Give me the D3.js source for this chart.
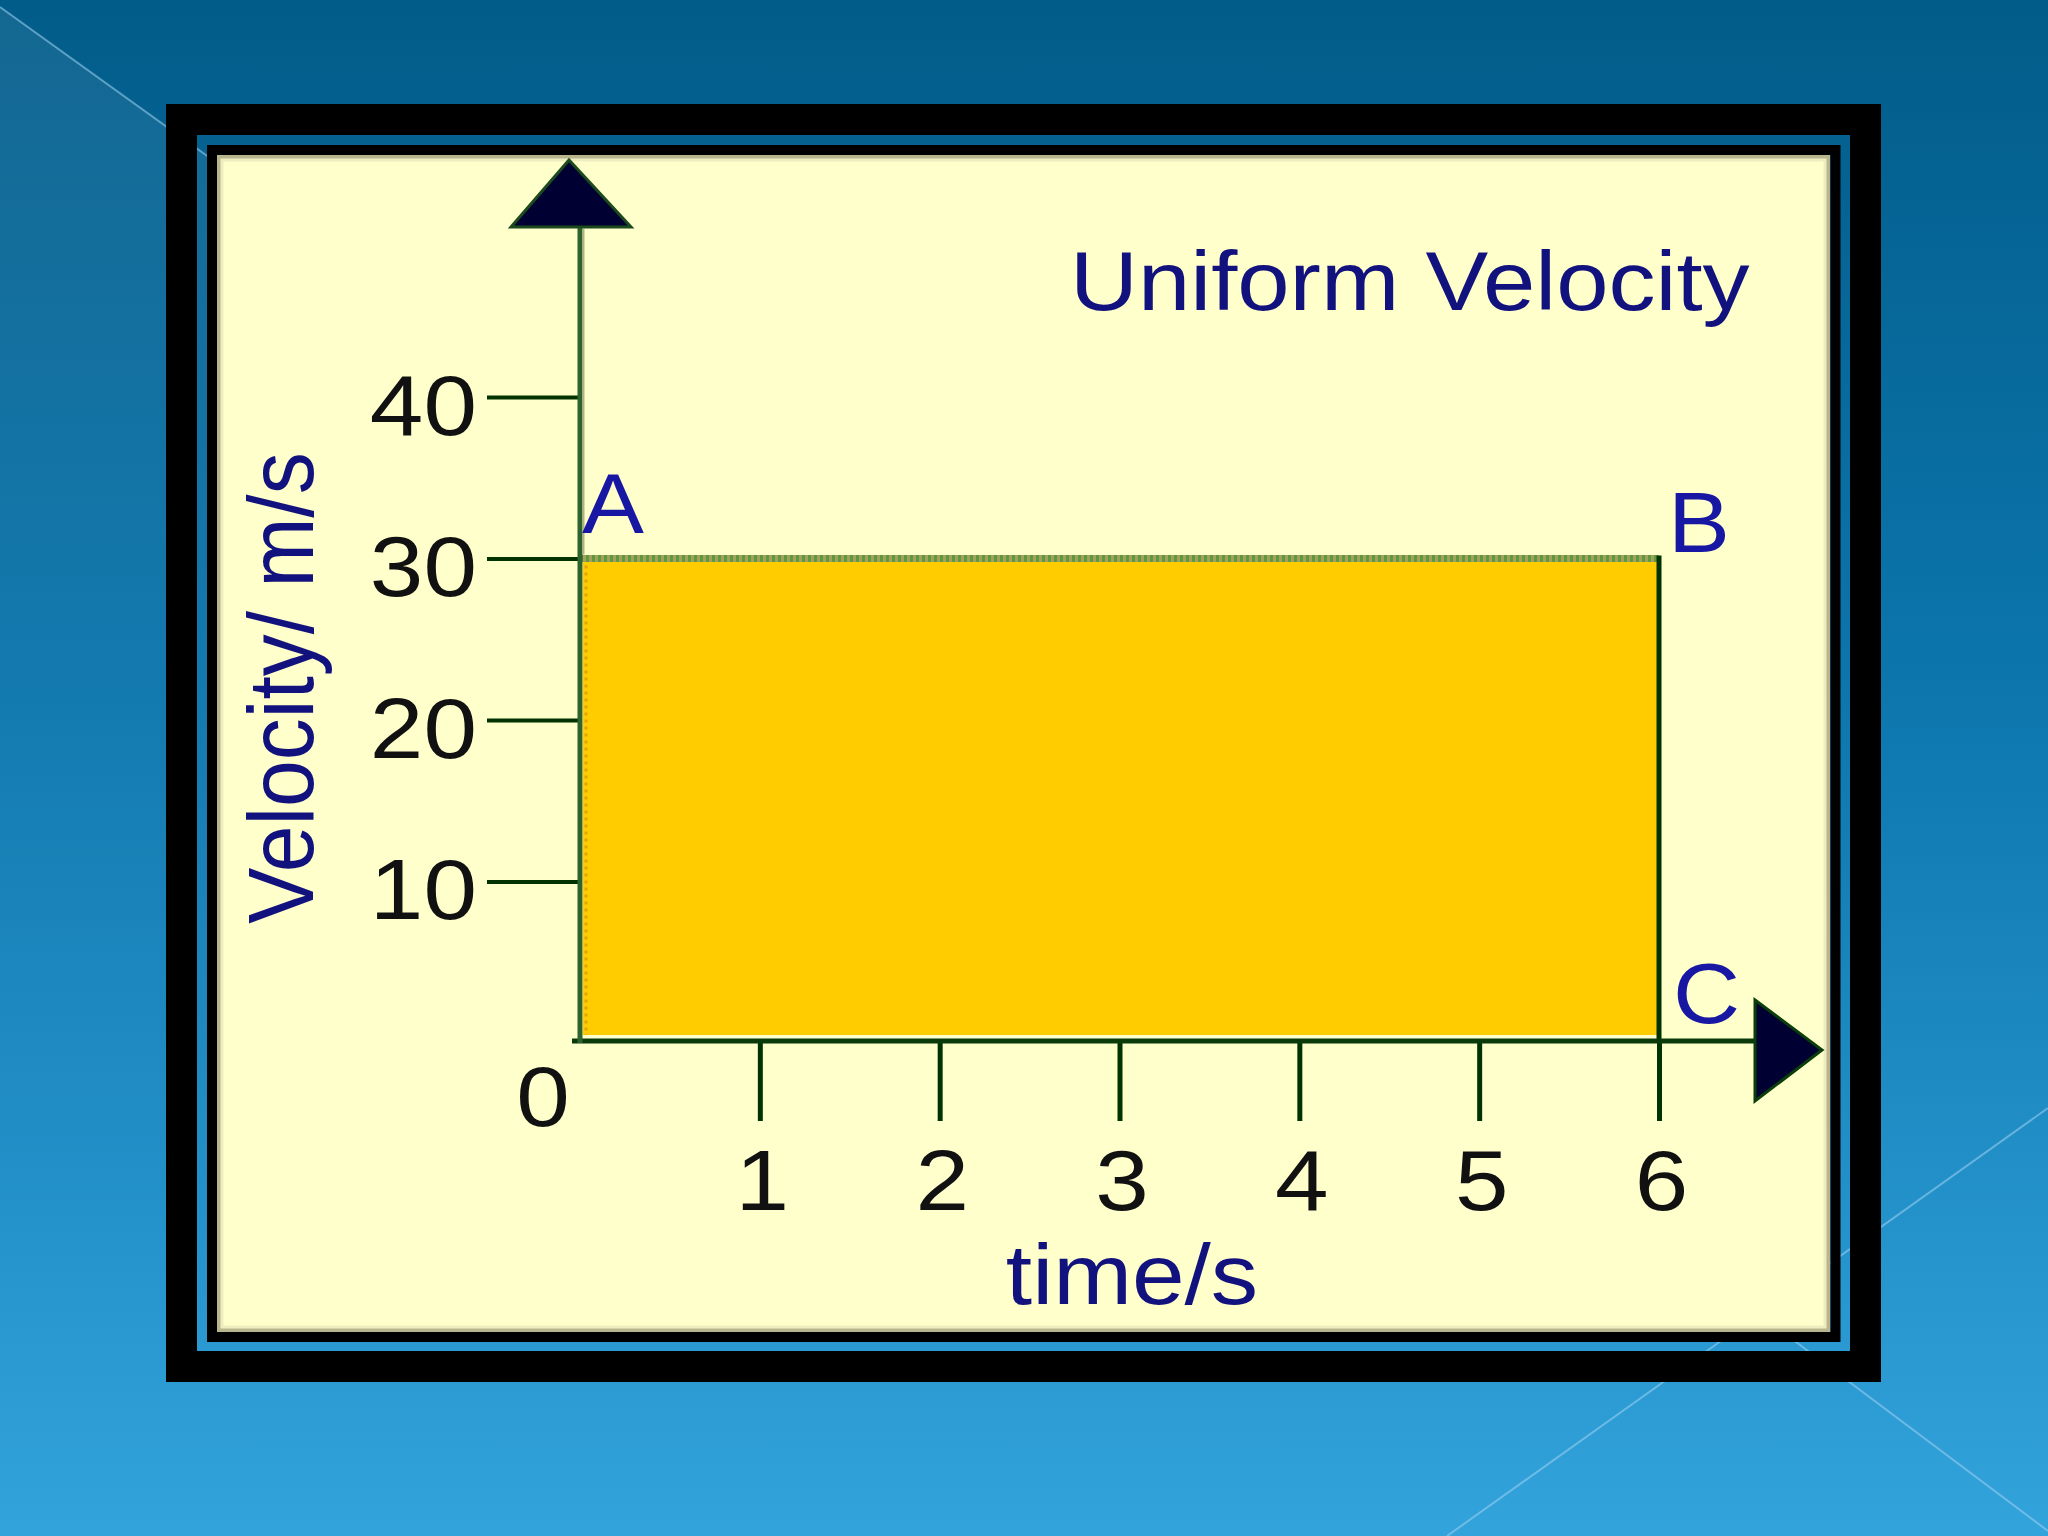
<!DOCTYPE html>
<html>
<head>
<meta charset="utf-8">
<script src="https://cdn.jsdelivr.net/npm/d3@7/dist/d3.min.js"></script>
<style>
  html, body { margin: 0; padding: 0; background: #0a6ea4; }
  svg { display: block; }
  text { font-family: "Liberation Sans", Arial, sans-serif; }
</style>
</head>
<body>
<svg id="chart" width="2048" height="1536"></svg>
<script>
// ---------------- data ----------------
const chartTitle = "Uniform Velocity";
const xTitle = "time/s";
const yTitle = "Velocity/ m/s";
const timeDomain = [0, 6];
const velocityDomain = [0, 40];
const timeTicks = [1, 2, 3, 4, 5, 6];
const velocityTicks = [10, 20, 30, 40];
const pointLabels = ["A", "B", "C"];
const pointTimes = [0, 6, 6];
const pointVelocities = [30, 30, 0];
const uniformVelocity = 30;
const motionStart = 0;
const motionEnd = 6;

// ---------------- layout ----------------
const W = 2048, H = 1536;
const svg = d3.select("#chart");
const defs = svg.append("defs");

const bg = defs.append("linearGradient").attr("id", "bg")
  .attr("x1", 0).attr("y1", 0).attr("x2", 0).attr("y2", 1);
bg.append("stop").attr("offset", "0%").attr("stop-color", "#025c89");
bg.append("stop").attr("offset", "45%").attr("stop-color", "#0c76ad");
bg.append("stop").attr("offset", "100%").attr("stop-color", "#33a3dc");

const wedge = defs.append("linearGradient").attr("id", "wedge")
  .attr("x1", 0).attr("y1", 0).attr("x2", 0).attr("y2", 1);
wedge.append("stop").attr("offset", "0%").attr("stop-color", "#ffffff").attr("stop-opacity", 0.07);
wedge.append("stop").attr("offset", "100%").attr("stop-color", "#ffffff").attr("stop-opacity", 0);

svg.append("rect").attr("width", W).attr("height", H).attr("fill", "url(#bg)");
// subtle lighter wedge at left
svg.append("polygon")
  .attr("points", "0,7 700,510 700,1200 0,1200")
  .attr("fill", "url(#wedge)");
// decorative light lines
const deco = [[0, 7, 700, 510], [1447, 1536, 2048, 1108], [1700, 1270, 2048, 1531]];
svg.selectAll("line.deco").data(deco).join("line").attr("class", "deco")
  .attr("x1", d => d[0]).attr("y1", d => d[1]).attr("x2", d => d[2]).attr("y2", d => d[3])
  .attr("stroke", "#9fd4f2").attr("stroke-opacity", 0.55).attr("stroke-width", 2);

// frames
svg.append("rect").attr("x", 181.5).attr("y", 119.5).attr("width", 1684).attr("height", 1247)
  .attr("fill", "none").attr("stroke", "#000").attr("stroke-width", 31);
svg.append("rect").attr("x", 212).attr("y", 150).attr("width", 1623.5).attr("height", 1187)
  .attr("fill", "none").attr("stroke", "#000").attr("stroke-width", 10);
// cream panel
svg.append("rect").attr("x", 217).attr("y", 155).attr("width", 1613).attr("height", 1177)
  .attr("fill", "#ffffcc");
svg.append("rect").attr("x", 219).attr("y", 157).attr("width", 1609).attr("height", 1173)
  .attr("fill", "none").attr("stroke", "#b9b68e").attr("stroke-width", 4);
svg.append("rect").attr("x", 222).attr("y", 160).attr("width", 1603).attr("height", 1167)
  .attr("fill", "none").attr("stroke", "#eeedbf").attr("stroke-width", 3);

// ---------------- scales ----------------
const x = d3.scaleLinear().domain(timeDomain).range([580, 1659]);
const y = d3.scaleLinear().domain(velocityDomain).range([1043, 397]);
const axisY = y(0) - 2;

const TXT = "#111111";
const NAVY = "#12127e";
const LETTER = "#1717a3";
const SX = 1.12;

// area under graph (displacement)
svg.append("rect")
  .attr("x", x(motionStart) + 3)
  .attr("y", y(uniformVelocity))
  .attr("width", x(motionEnd) - x(motionStart) - 3)
  .attr("height", (axisY - 6) - y(uniformVelocity))
  .attr("fill", "#ffcc00");
// dotted orange left edge
svg.append("line")
  .attr("x1", x(motionStart) + 6).attr("x2", x(motionStart) + 6)
  .attr("y1", y(uniformVelocity)).attr("y2", axisY - 6)
  .attr("stroke", "#e8a200").attr("stroke-width", 3).attr("stroke-dasharray", "3,4");

// line AB (dotted)
svg.append("line")
  .attr("x1", x(motionStart)).attr("x2", x(motionEnd))
  .attr("y1", y(uniformVelocity)).attr("y2", y(uniformVelocity))
  .attr("stroke", "#a3a062").attr("stroke-width", 7);
svg.append("line")
  .attr("x1", x(motionStart)).attr("x2", x(motionEnd))
  .attr("y1", y(uniformVelocity)).attr("y2", y(uniformVelocity))
  .attr("stroke", "#5f9a3a").attr("stroke-width", 7).attr("stroke-dasharray", "3,3");
// line BC
svg.append("line")
  .attr("x1", x(motionEnd)).attr("x2", x(motionEnd))
  .attr("y1", y(uniformVelocity) - 3).attr("y2", axisY)
  .attr("stroke", "#003300").attr("stroke-width", 5);

// ---------------- axes ----------------
const xAxis = d3.axisBottom(x).tickValues(timeTicks).tickSize(80).tickPadding(10)
  .tickFormat(d3.format("d"));
const gx = svg.append("g").attr("transform", `translate(0,${axisY})`).call(xAxis);
gx.select(".domain").remove();
gx.selectAll(".tick line").attr("stroke", "#003300").attr("stroke-width", 5);
gx.selectAll(".tick text")
  .attr("y", null).attr("dy", null)
  .attr("transform", `translate(2,169) scale(${SX},1)`)
  .attr("text-anchor", "middle")
  .attr("fill", TXT).attr("font-size", 86)
  .attr("font-family", "Liberation Sans, Arial, sans-serif");

const yAxis = d3.axisLeft(y).tickValues(velocityTicks).tickSize(93).tickPadding(10)
  .tickFormat(d3.format("d"));
const gy = svg.append("g").attr("transform", `translate(${x(0)},0)`).call(yAxis);
gy.select(".domain").remove();
gy.selectAll(".tick line").attr("stroke", "#003300").attr("stroke-width", 4);
gy.selectAll(".tick text")
  .attr("x", null).attr("dy", null)
  .attr("transform", `translate(-103,37) scale(${SX},1)`)
  .attr("text-anchor", "end")
  .attr("fill", TXT).attr("font-size", 86)
  .attr("font-family", "Liberation Sans, Arial, sans-serif");

// origin label
svg.append("text")
  .attr("transform", `translate(${x(0) - 37},${y(0) + 83}) scale(${SX},1)`)
  .attr("text-anchor", "middle").attr("font-size", 86).attr("fill", TXT)
  .text(d3.format("d")(0));

// x axis line + arrow
svg.append("line")
  .attr("x1", x(0) - 8).attr("x2", 1760)
  .attr("y1", axisY).attr("y2", axisY)
  .attr("stroke", "#0a3a0a").attr("stroke-width", 5);
svg.append("polygon")
  .attr("points", `1755,${axisY - 41} 1822,${axisY + 9} 1755,${axisY + 60}`)
  .attr("fill", "#000033").attr("stroke", "#0b3d0b").attr("stroke-width", 3)
  .attr("stroke-linejoin", "miter");

// y axis line + arrow
svg.append("line")
  .attr("x1", x(0)).attr("x2", x(0))
  .attr("y1", 227).attr("y2", axisY + 2)
  .attr("stroke", "#2e632e").attr("stroke-width", 5);
svg.append("line")
  .attr("x1", x(0) + 3.5).attr("x2", x(0) + 3.5)
  .attr("y1", 229).attr("y2", y(uniformVelocity) - 4)
  .attr("stroke", "#b3b286").attr("stroke-width", 2);
svg.append("polygon")
  .attr("points", `${x(0) - 69},227 ${x(0) - 11},160 ${x(0) + 51},227`)
  .attr("fill", "#000033").attr("stroke", "#1c4a1c").attr("stroke-width", 3)
  .attr("stroke-linejoin", "miter");

// ---------------- point labels ----------------
const labelOffsets = [[2, -26], [9, -7], [14, -20]];
svg.selectAll("text.pt").data(pointLabels).join("text").attr("class", "pt")
  .attr("transform", (d, i) =>
    `translate(${x(pointTimes[i]) + labelOffsets[i][0]},${y(pointVelocities[i]) + labelOffsets[i][1]}) scale(1.08,1)`)
  .attr("font-size", 86).attr("fill", LETTER)
  .text(d => d);

// ---------------- titles ----------------
svg.append("text")
  .attr("transform", `translate(1070,310) scale(1.12,1)`)
  .attr("font-size", 84).attr("fill", NAVY)
  .text(chartTitle);

svg.append("text")
  .attr("transform", `translate(1132,1304) scale(1.1,1)`)
  .attr("text-anchor", "middle")
  .attr("font-size", 86).attr("fill", NAVY)
  .text(xTitle);

svg.append("text")
  .attr("transform", `translate(313,688) scale(1.1,1) rotate(-90)`)
  .attr("text-anchor", "middle")
  .attr("font-size", 84).attr("fill", NAVY)
  .text(yTitle);
</script>
</body>
</html>
